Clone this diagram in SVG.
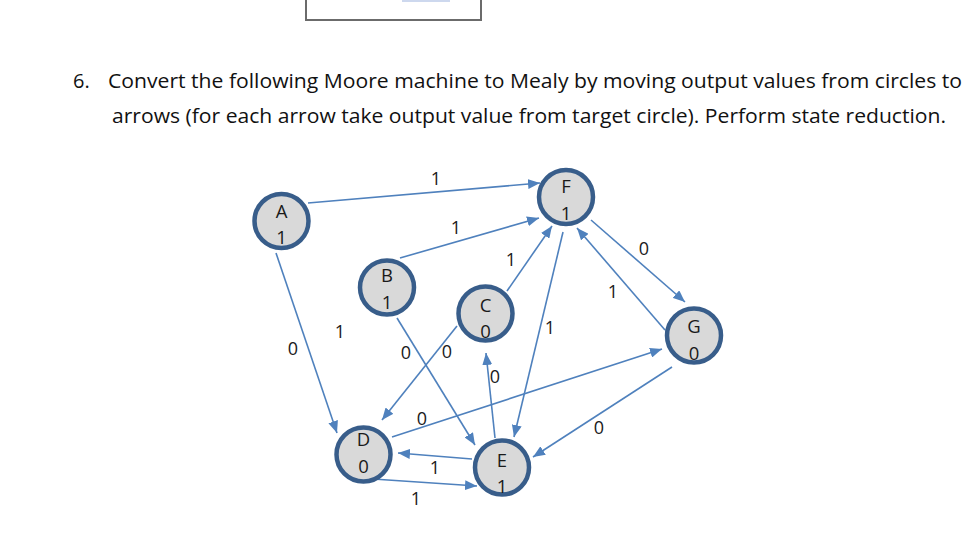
<svg xmlns="http://www.w3.org/2000/svg" width="979" height="542" viewBox="0 0 979 542">
<style>
.title{font-family:"Open Sans","Liberation Sans",sans-serif;font-size:20px;fill:#111}
.node circle{fill:#d9d9d9;stroke:#385d8a;stroke-width:4.5}
.node text{font-family:"Open Sans","Liberation Sans",sans-serif;font-size:18.5px;fill:#1a1a1a;text-anchor:middle}
.edges line{stroke:#4f81bd;stroke-width:1.6;marker-end:url(#arr)}
.lbl text{font-family:"Open Sans","Liberation Sans",sans-serif;font-size:18px;fill:#1a1a1a;text-anchor:middle}
</style>
<defs>
<marker id="arr" markerUnits="userSpaceOnUse" markerWidth="12" markerHeight="10" refX="12" refY="5" orient="auto">
<path d="M0,0 L12,5 L0,10 z" fill="#4f81bd"/>
</marker>
</defs>
<rect width="979" height="542" fill="#ffffff"/>
<g id="topbox">
<rect x="306" y="-6" width="175" height="26" fill="#ffffff" stroke="#6b6b6b" stroke-width="2"/>
<rect x="402" y="0" width="48" height="2" fill="#cdd8ee"/>
</g>
<g id="heading">
<text class="title" x="73" y="88">6.</text>
<text class="title" x="108" y="88" textLength="854" lengthAdjust="spacingAndGlyphs">Convert the following Moore machine to Mealy by moving output values from circles to</text>
<text class="title" x="112" y="123" textLength="834" lengthAdjust="spacingAndGlyphs">arrows (for each arrow take output value from target circle). Perform state reduction.</text>
</g>
<g id="connectors" class="edges">
<line x1="308" y1="203" x2="540" y2="183"/>
<line x1="400" y1="258" x2="539" y2="218"/>
<line x1="507" y1="291" x2="552" y2="226"/>
<line x1="563" y1="232" x2="514" y2="437"/>
<line x1="591" y1="220" x2="685" y2="302"/>
<line x1="665" y1="330" x2="577" y2="228"/>
<line x1="672" y1="367" x2="533" y2="457"/>
<line x1="392" y1="437" x2="662" y2="349"/>
<line x1="276" y1="253" x2="337" y2="433"/>
<line x1="397" y1="318" x2="475" y2="445"/>
<line x1="457" y1="326" x2="382" y2="420"/>
<line x1="495" y1="438" x2="486" y2="353"/>
<line x1="472" y1="459" x2="398" y2="453"/>
<line x1="373" y1="479" x2="477" y2="486"/>
</g>
<g id="labels" class="lbl">
<text x="436" y="185">1</text>
<text x="456" y="234">1</text>
<text x="511" y="266">1</text>
<text x="550" y="334">1</text>
<text x="644" y="255">0</text>
<text x="613" y="298">1</text>
<text x="599" y="434">0</text>
<text x="422" y="425">0</text>
<text x="293" y="355">0</text>
<text x="340" y="338">1</text>
<text x="406" y="359">0</text>
<text x="447" y="358">0</text>
<text x="495" y="383">0</text>
<text x="435" y="474">1</text>
<text x="416" y="505">1</text>
</g>
<g id="A" class="node"><circle cx="281.5" cy="221" r="27"/><text x="281.5" y="218">A</text><text x="281.5" y="244">1</text></g>
<g id="B" class="node"><circle cx="387" cy="287.5" r="27"/><text x="387" y="282">B</text><text x="387" y="309">1</text></g>
<g id="C" class="node"><circle cx="485.5" cy="313.5" r="27"/><text x="485.5" y="312">C</text><text x="485.5" y="338">0</text></g>
<g id="D" class="node"><circle cx="363.5" cy="454.5" r="27"/><text x="363.5" y="446">D</text><text x="363.5" y="473">0</text></g>
<g id="E" class="node"><circle cx="502" cy="467.5" r="27"/><text x="502" y="467">E</text><text x="502" y="493">1</text></g>
<g id="F" class="node"><circle cx="566" cy="197" r="27"/><text x="566" y="193">F</text><text x="566" y="220">1</text></g>
<g id="G" class="node"><circle cx="694" cy="335.5" r="27"/><text x="694" y="333">G</text><text x="694" y="360">0</text></g>
</svg>
